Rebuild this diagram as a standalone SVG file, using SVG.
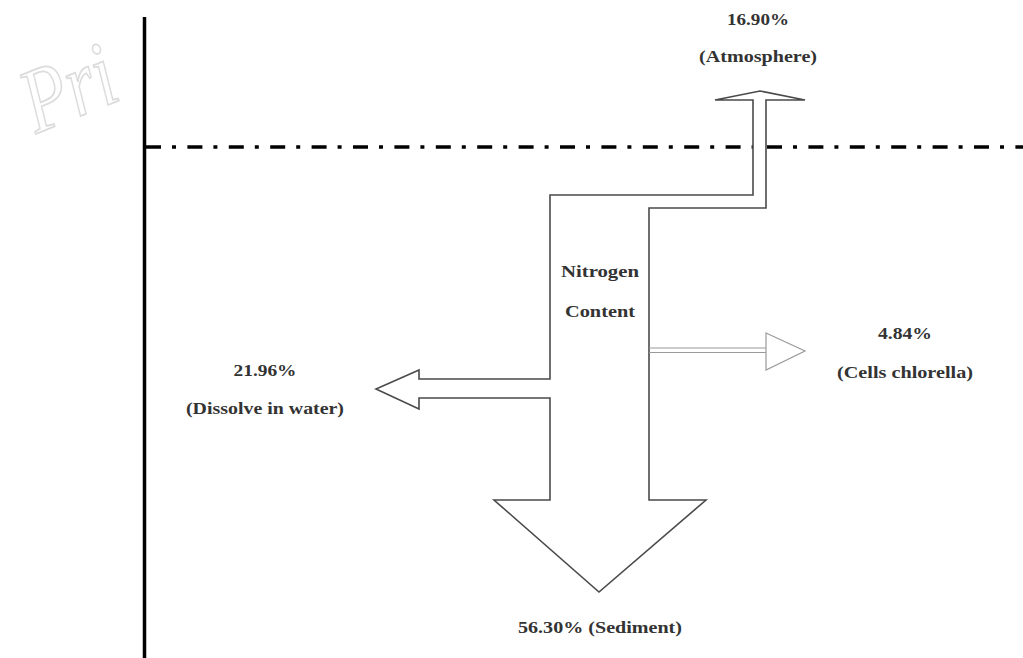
<svg xmlns="http://www.w3.org/2000/svg" width="1023" height="658" viewBox="0 0 1023 658">
  <style>
    .lbl { font-family: "Liberation Serif", "Times New Roman", serif; font-weight: bold; font-size: 17px; fill: #333; text-anchor: middle; }
    .flow { fill: #fff; stroke: #4a4a4a; stroke-width: 1.6; stroke-linejoin: miter; }
    .thin { fill: none; stroke: #9a9a9a; stroke-width: 1.2; }
  </style>

  <rect width="1023" height="658" fill="#fff"/>

  <!-- faint watermark left of the axis -->
  <g id="watermark">
    <text x="36" y="134" transform="rotate(-22 36 134)" font-family="'Liberation Serif', serif" font-style="italic" font-size="92" textLength="94" lengthAdjust="spacingAndGlyphs" fill="none" stroke="#dcdcdc" stroke-width="1.8">Pri</text>
  </g>

  <!-- vertical axis and water surface -->
  <g id="frame">
    <line x1="144.5" y1="17" x2="144.5" y2="658" stroke="#000" stroke-width="3.5"/>
    <line x1="146" y1="147" x2="1023" y2="147" stroke="#000" stroke-width="3.5" stroke-dasharray="15 11 4 11.4"/>
  </g>

  <!-- nitrogen flow: atmosphere, dissolved, sediment branches in one outline -->
  <g id="connectors">
    <path class="flow" d="M753,100 L753,195 L550,195 L550,379 L419,379 L419,370 L376,389 L419,409 L419,398 L550,398 L550,500 L494,500 L599,592 L706,500 L649,500 L649,208 L766,208 L766,100 L805,100 L760,91 L715,100 Z"/>
    <!-- small branch to chlorella cells -->
    <line class="thin" x1="649" y1="348" x2="766" y2="348"/>
    <line class="thin" x1="649" y1="352.5" x2="766" y2="352.5"/>
    <path class="thin" d="M766,333 L805,351 L766,370 Z" fill="#fff"/>
  </g>

  <g id="node-source">
    <text class="lbl" x="600" y="277" textLength="78" lengthAdjust="spacingAndGlyphs">Nitrogen</text>
    <text class="lbl" x="600" y="317" textLength="70" lengthAdjust="spacingAndGlyphs">Content</text>
  </g>

  <g id="node-atmosphere">
    <text class="lbl" x="758" y="25" textLength="62" lengthAdjust="spacingAndGlyphs">16.90%</text>
    <text class="lbl" x="758" y="62" textLength="118" lengthAdjust="spacingAndGlyphs">(Atmosphere)</text>
  </g>

  <g id="node-cells">
    <text class="lbl" x="905" y="339" textLength="54" lengthAdjust="spacingAndGlyphs">4.84%</text>
    <text class="lbl" x="905" y="378" textLength="136" lengthAdjust="spacingAndGlyphs">(Cells chlorella)</text>
  </g>

  <g id="node-water">
    <text class="lbl" x="265" y="376" textLength="63" lengthAdjust="spacingAndGlyphs">21.96%</text>
    <text class="lbl" x="265" y="414" textLength="158" lengthAdjust="spacingAndGlyphs">(Dissolve in water)</text>
  </g>

  <g id="node-sediment">
    <text class="lbl" x="600" y="633" textLength="164" lengthAdjust="spacingAndGlyphs">56.30% (Sediment)</text>
  </g>
</svg>
